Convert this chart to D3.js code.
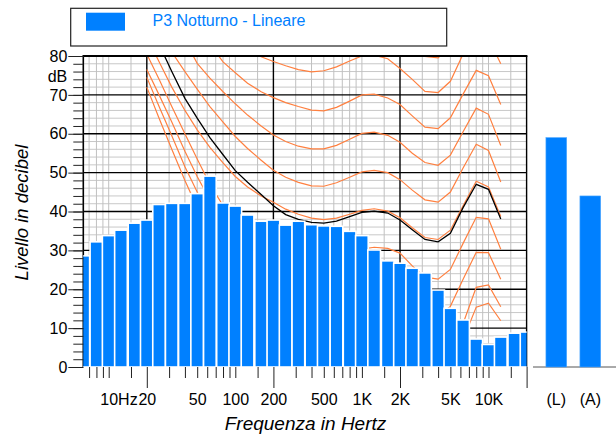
<!DOCTYPE html>
<html>
<head>
<meta charset="utf-8">
<script src="https://cdn.jsdelivr.net/npm/d3@7"></script>
<style>
  body { margin: 0; background: #fff; }
  svg { display: block; font-family: "Liberation Sans", Arial, sans-serif; }
</style>
</head>
<body>
<script>
'use strict';

// third octave bands (Hz) and measured level of each band (dB)
const bandFreqs = [6.3, 8, 10, 12.5, 16, 20, 25, 31.5, 40, 50, 63, 80, 100, 125, 160,
  200, 250, 315, 400, 500, 630, 800, 1000, 1250, 1600, 2000, 2500, 3150, 4000, 5000,
  6300, 8000, 10000, 12500, 16000, 20000];
const bandLevels = [28.6, 32.2, 33.8, 35.2, 37.0, 37.8, 41.8, 42.1, 42.1, 44.6, 49.1, 42.2, 41.4, 39.1, 37.5,
  37.8, 36.5, 37.5, 36.6, 36.3, 36.2, 34.9, 33.8, 30.1, 27.3, 26.7, 25.4, 24.2, 19.8, 15.1,
  12.1, 7.2, 5.8, 7.7, 8.7, 9.0];

// overall levels shown on the right
const totalLabels = ["(L)", "(A)"];
const totalLevels = [59.0, 44.0];

// isophonic curves, read at these frequencies
const contourFreqs = [20, 25, 31.5, 40, 50, 63, 80, 100, 125, 160, 200, 250, 315, 400, 500,
  630, 800, 1000, 1250, 1600, 2000, 2500, 3150, 4000, 5000, 6300, 8000, 10000, 12500];
const phon0 = [72, 64, 56, 48, 41, 34, 28, 23, 19, 15.5, 12, 9.5, 7.5, 5.8, 4.8,
  4.2, 4.0, 4.2, 4.5, 4.0, 2.5, 0.5, -1, -1.5, 1, 7, 15.4, 16.4, 11.9];
const phon10 = [74.5, 67, 59.5, 51.5, 45, 38.5, 33, 28.5, 24.5, 20.5, 17.5, 15, 13, 11.5, 10.5,
  10, 10.1, 10.5, 11, 10.8, 9.8, 7.3, 5, 4.5, 6.2, 11.2, 20.5, 21.1, 15.5];
const phon20 = [76.5, 70, 63, 55.5, 49, 43, 38, 33.5, 30, 27, 25, 23.3, 21.5, 20.2, 19.5,
  19.4, 19.8, 20.4, 20.9, 20.7, 19.6, 16.8, 14, 13.2, 15.6, 22.6, 29.5, 29.4, 22.6];
const phon30 = [80.5, 74, 67, 60, 53.5, 47, 41.5, 38, 35.5, 34, 33, 31.8, 30.5, 29.5, 29,
  29, 29.5, 30.3, 30.8, 30.5, 29.3, 26, 23.1, 22.6, 25.1, 31.8, 38.5, 38.1, 30.3];
const phon40 = [85, 78.5, 72, 66, 61, 56.5, 52.5, 49, 46.3, 44, 42.4, 40.6, 39.3, 38.3, 37.9,
  38.3, 39.3, 40.3, 40.7, 40.1, 38.4, 35.8, 33.3, 32.8, 35.2, 41.5, 47.8, 46.3, 38.7];
const phon50 = [93, 87, 81, 76, 71.5, 67, 63, 59.3, 56.2, 53.2, 50.6, 48.8, 47.5, 46.6, 46.5,
  47.4, 48.8, 50.2, 50.6, 50, 48.2, 45.5, 43.0, 42.4, 45.0, 51.2, 57.3, 55.7, 47.6];
const phon60 = [104, 97, 90, 84, 78.1, 74.3, 70.8, 67.7, 64.8, 62, 59.7, 58, 56.8, 56.1, 56.1,
  57, 58.6, 60.1, 60.4, 59.6, 57.8, 55, 52.6, 51.9, 54.5, 60.5, 66.6, 65.0, 57.0];
const phon70 = [112, 105, 98, 92, 87, 83, 78.5, 75.7, 73, 70.8, 69.3, 68, 67, 66.1, 65.9,
  66.8, 68.4, 70, 70.2, 69.2, 67.5, 64.6, 61.7, 61.3, 64.1, 70.2, 76.3, 74.9, 67.5];
const phon80 = [118, 112, 106, 100, 95, 91, 87.5, 84.5, 82, 79.8, 78.6, 77.5, 76.5, 75.9, 76.2,
  77.2, 78.7, 80, 80.2, 79.3, 76.8, 74, 70.9, 70.6, 73.5, 80.5, 86, 84.5, 78];
const phon90 = [125, 119, 113, 108, 104, 100, 97, 94, 92, 90, 89, 88, 87, 86.3, 86.3,
  87.2, 88.7, 90, 90.2, 89.3, 86.5, 83.2, 79.9, 79.5, 82.5, 89, 95, 94, 88];
// curve of the measured loudness (black)
const measuredCurve = [90, 83, 76, 69.1, 64, 59, 54.6, 50.5, 47.5, 44.4, 41.5, 39.2, 38, 37.2, 37,
  37.5, 38.7, 39.8, 40.1, 39.6, 37.8, 35.3, 32.8, 32.2, 34.4, 41, 47, 45.7, 38.1];

// axis ticks
const dbTicks = [0, 10, 20, 30, 40, 50, 60, 70, 80];
const freqTicks = [10, 20, 50, 100, 200, 500, 1000, 2000, 5000, 10000];
const freqTickLabels = ["10Hz", "20", "50", "100", "200", "500", "1K", "2K", "5K", "10K"];
const minorFreqs = [7, 8, 9, 10, 15, 30, 40, 50, 60, 70, 80, 90, 100, 150,
  300, 400, 500, 600, 700, 800, 900, 1000, 1500,
  3000, 4000, 5000, 6000, 7000, 8000, 9000, 10000, 15000];
const majorFreqs = [20, 200, 2000, 20000];

(function() {

  let svg = d3.select('body')
    .append('svg')
    .attr('width', 616)
    .attr('height', 434);

  let x = d3.scaleLog().domain([6.3, 20000]).range([83.3, 526.6]);
  let y = d3.scaleLinear().domain([0, 80]).range([367, 56]);

  let left = x.range()[0];
  let right = x.range()[1];
  let top = y(80);
  let bottom = y(0);

  svg.append('defs').append('clipPath')
    .attr('id', 'plotClip')
    .append('rect')
      .attr('x', left)
      .attr('y', top)
      .attr('width', right - left)
      .attr('height', bottom - top);

  drawGrid();
  drawContours();
  drawBars();
  drawAxes();
  drawTotals();
  drawLegend();
  drawTitles();

  // light grid, then the black decade / 10 dB lines
  function drawGrid() {
    let grid = svg.append('g');
    let minorDb = d3.range(2, 80, 2).filter((d) => d % 10 != 0);

    grid.selectAll('.hMinor').data(minorDb).enter().append('line')
      .attr('x1', left).attr('x2', right)
      .attr('y1', (d) => y(d)).attr('y2', (d) => y(d))
      .attr('stroke', '#c8c8c8').attr('stroke-width', 1);

    grid.selectAll('.vMinor').data(minorFreqs).enter().append('line')
      .attr('x1', (d) => x(d)).attr('x2', (d) => x(d))
      .attr('y1', top).attr('y2', bottom)
      .attr('stroke', '#c0c0c0').attr('stroke-width', 1);

    grid.selectAll('.hMajor').data(dbTicks.slice(1, 8)).enter().append('line')
      .attr('x1', left).attr('x2', right)
      .attr('y1', (d) => y(d)).attr('y2', (d) => y(d))
      .attr('stroke', '#000').attr('stroke-width', 1.3);

    grid.selectAll('.vMajor').data(majorFreqs).enter().append('line')
      .attr('x1', (d) => x(d)).attr('x2', (d) => x(d))
      .attr('y1', top).attr('y2', bottom)
      .attr('stroke', '#000').attr('stroke-width', 1.4);

    // left border
    grid.append('line')
      .attr('x1', left).attr('x2', left)
      .attr('y1', top).attr('y2', bottom)
      .attr('stroke', '#000').attr('stroke-width', 1.6);
  }

  // isophonic curves (orange) and the measured one (black)
  function drawContours() {
    let g = svg.append('g').attr('clip-path', 'url(#plotClip)');
    let line = d3.line()
      .x((d, i) => x(contourFreqs[i]))
      .y((d) => y(d));

    let curves = [phon0, phon10, phon20, phon30, phon40, phon50, phon60, phon70, phon80, phon90];

    g.selectAll('.phon').data(curves).enter().append('path')
      .attr('d', line)
      .attr('fill', 'none')
      .attr('stroke', '#ff8040')
      .attr('stroke-width', 1.2);

    g.append('path')
      .attr('d', line(measuredCurve))
      .attr('fill', 'none')
      .attr('stroke', '#000')
      .attr('stroke-width', 1.3);
  }

  // third octave spectrum
  function drawBars() {
    let half = Math.pow(10, 0.05); // half band, 1/20 decade
    let g = svg.append('g').attr('clip-path', 'url(#plotClip)');

    g.selectAll('rect').data(bandFreqs).enter().append('rect')
      .attr('x', (f) => x(f / half))
      .attr('width', (f) => x(f * half) - x(f / half))
      .attr('y', (f, i) => y(bandLevels[i]))
      .attr('height', (f, i) => bottom - y(bandLevels[i]))
      .attr('fill', '#0080ff')
      .attr('stroke', '#fff')
      .attr('stroke-width', 1.6);

    // top border over everything
    svg.append('line')
      .attr('x1', left - 0.8).attr('x2', right + 0.8)
      .attr('y1', top).attr('y2', top)
      .attr('stroke', '#000').attr('stroke-width', 2);
  }

  function styleAxis(g) {
    g.attr('font-size', null).attr('font-family', null);
    g.select('.domain').remove();
    g.selectAll('line').attr('stroke', '#222');
    g.selectAll('text').style('font-size', '16px').attr('fill', '#000');
  }

  function drawAxes() {
    // dB axis: small ticks every 2 dB, long ones with labels every 10
    svg.append('g')
      .attr('transform', 'translate(' + left + ',0)')
      .call(d3.axisLeft(y).tickValues(d3.range(0, 81, 2)).tickSize(10).tickFormat(''))
      .call(styleAxis);

    svg.append('g')
      .attr('transform', 'translate(' + left + ',0)')
      .call(d3.axisLeft(y).tickValues(dbTicks).tickSize(15).tickPadding(1))
      .call(styleAxis);

    svg.append('text')
      .attr('x', left - 16)
      .attr('y', (y(80) + y(70)) / 2 + 7)
      .attr('text-anchor', 'end')
      .style('font-size', '16px')
      .text('dB');

    // frequency axis
    svg.append('g')
      .attr('transform', 'translate(0,' + bottom + ')')
      .call(d3.axisBottom(x).tickValues(minorFreqs).tickSize(11).tickFormat(''))
      .call(styleAxis);

    svg.append('g')
      .attr('transform', 'translate(0,' + bottom + ')')
      .call(d3.axisBottom(x).tickValues(majorFreqs).tickSize(21).tickFormat(''))
      .call(styleAxis);

    let labels = svg.append('g')
      .attr('transform', 'translate(0,' + bottom + ')')
      .call(d3.axisBottom(x).tickValues(freqTicks).tickSize(0).tickPadding(26.6)
        .tickFormat((d, i) => freqTickLabels[i]))
      .call(styleAxis);

    // "10Hz": the number sits on the tick, the unit runs to the right
    labels.selectAll('text').each(function(d, i) {
      let label = freqTickLabels[i];
      if (label.indexOf('Hz') < 0) return;
      let t = d3.select(this).text('');
      let num = t.append('tspan').text(label.replace('Hz', ''));
      t.append('tspan').text('Hz');
      t.attr('text-anchor', 'start').attr('x', -num.node().getComputedTextLength() / 2);
    });
  }

  // overall L and A levels
  function drawTotals() {
    let band = d3.scaleBand()
      .domain(totalLabels)
      .range([539.3, 607.3])
      .paddingInner(0.39)
      .paddingOuter(0.195);

    svg.append('line')
      .attr('x1', 533).attr('x2', 616)
      .attr('y1', bottom).attr('y2', bottom)
      .attr('stroke', '#555').attr('stroke-width', 1);

    svg.selectAll('.total').data(totalLevels).enter().append('rect')
      .attr('x', (d, i) => band(totalLabels[i]))
      .attr('width', band.bandwidth())
      .attr('y', (d) => y(d))
      .attr('height', (d) => bottom - y(d))
      .attr('fill', '#0080ff')
      .attr('stroke', '#4da6ff')
      .attr('stroke-width', 0.6);

    svg.append('g')
      .attr('transform', 'translate(0,' + bottom + ')')
      .call(d3.axisBottom(band).tickSize(0).tickPadding(26.6))
      .call(styleAxis);
  }

  function drawLegend() {
    svg.append('rect')
      .attr('x', 70.7).attr('y', 8.3)
      .attr('width', 376).attr('height', 37.7)
      .attr('fill', '#fff')
      .attr('stroke', '#222')
      .attr('stroke-width', 1.2);

    svg.append('rect')
      .attr('x', 86).attr('y', 12.7)
      .attr('width', 39).attr('height', 18)
      .attr('fill', '#0080ff');

    svg.append('text')
      .attr('x', 152.5)
      .attr('y', 26.2)
      .style('font-size', '16px')
      .attr('fill', '#0080ff')
      .text('P3 Notturno - Lineare');
  }

  function drawTitles() {
    svg.append('text')
      .attr('x', 305.5)
      .attr('y', 429.5)
      .attr('text-anchor', 'middle')
      .style('font-size', '19px')
      .style('font-style', 'italic')
      .text('Frequenza in Hertz');

    svg.append('text')
      .attr('transform', 'translate(28,212.5)rotate(-90)')
      .attr('text-anchor', 'middle')
      .style('font-size', '18.5px')
      .style('font-style', 'italic')
      .text('Livello in decibel');
  }

})();
</script>
</body>
</html>
